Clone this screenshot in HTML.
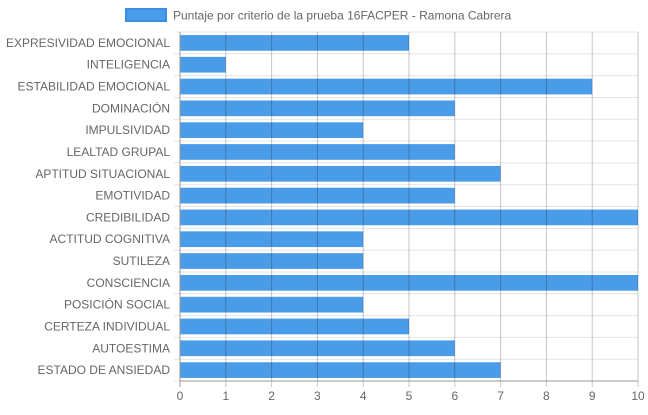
<!DOCTYPE html>
<html><head><meta charset="utf-8"><style>
body{margin:0;background:#fff;font-family:"Liberation Sans",Arial,sans-serif}
svg text{font-family:"Liberation Sans",Arial,sans-serif;fill:#666;font-size:12px}
</style></head><body>
<svg id="c" width="648" height="410">
<g id="legend">
<rect x="126" y="9" width="40" height="12" fill="#4a9be8" stroke="#3a8de0" stroke-width="2"/>
<text x="173" y="19.5">Puntaje por criterio de la prueba 16FACPER - Ramona Cabrera</text>
</g>
</svg>
<script>
const categories=["EXPRESIVIDAD EMOCIONAL","INTELIGENCIA","ESTABILIDAD EMOCIONAL","DOMINACIÓN","IMPULSIVIDAD","LEALTAD GRUPAL","APTITUD SITUACIONAL","EMOTIVIDAD","CREDIBILIDAD","ACTITUD COGNITIVA","SUTILEZA","CONSCIENCIA","POSICIÓN SOCIAL","CERTEZA INDIVIDUAL","AUTOESTIMA","ESTADO DE ANSIEDAD"];
const values=[5,1,9,6,4,6,7,6,10,4,4,10,4,5,6,7];
const ticks=[0,1,2,3,4,5,6,7,8,9,10];
const svg=document.getElementById('c');const NS='http://www.w3.org/2000/svg';
const L=180,R=638,T=32,B=381;
const x=v=>L+(v-ticks[0])/(ticks[ticks.length-1]-ticks[0])*(R-L);
const band=(B-T)/categories.length;
const y=i=>T+i*band;
function mk(t,a){const e=document.createElementNS(NS,t);for(const k in a)e.setAttribute(k,a[k]);svg.appendChild(e);return e;}
// horizontal grid
for(let i=0;i<=categories.length;i++){
const l=mk('line',{x1:L-6,x2:R,y1:y(i),y2:y(i),stroke:'#e4e4e4'});


}
// bars
values.forEach((v,i)=>{
const h=band*0.72;
const r=mk('rect',{x:x(0),y:y(i)+(band-h)/2,width:x(v)-x(0),height:h,fill:'#4a9be8'});


const t=mk('text',{x:L-10,y:y(i)+band/2+4,'text-anchor':'end'});t.textContent=categories[i];


});
// vertical grid + ticks
ticks.forEach(tv=>{
const l=mk('line',{x1:x(tv),x2:x(tv),y1:T,y2:B+6,stroke:tv===0?'#999':'rgba(0,0,0,0.22)'});


const t=mk('text',{x:x(tv),y:B+19,'text-anchor':'middle'});t.textContent=tv;


});
const ax=mk('line',{x1:L,x2:R,y1:B,y2:B,stroke:'#999'});


</script>
</body></html>
